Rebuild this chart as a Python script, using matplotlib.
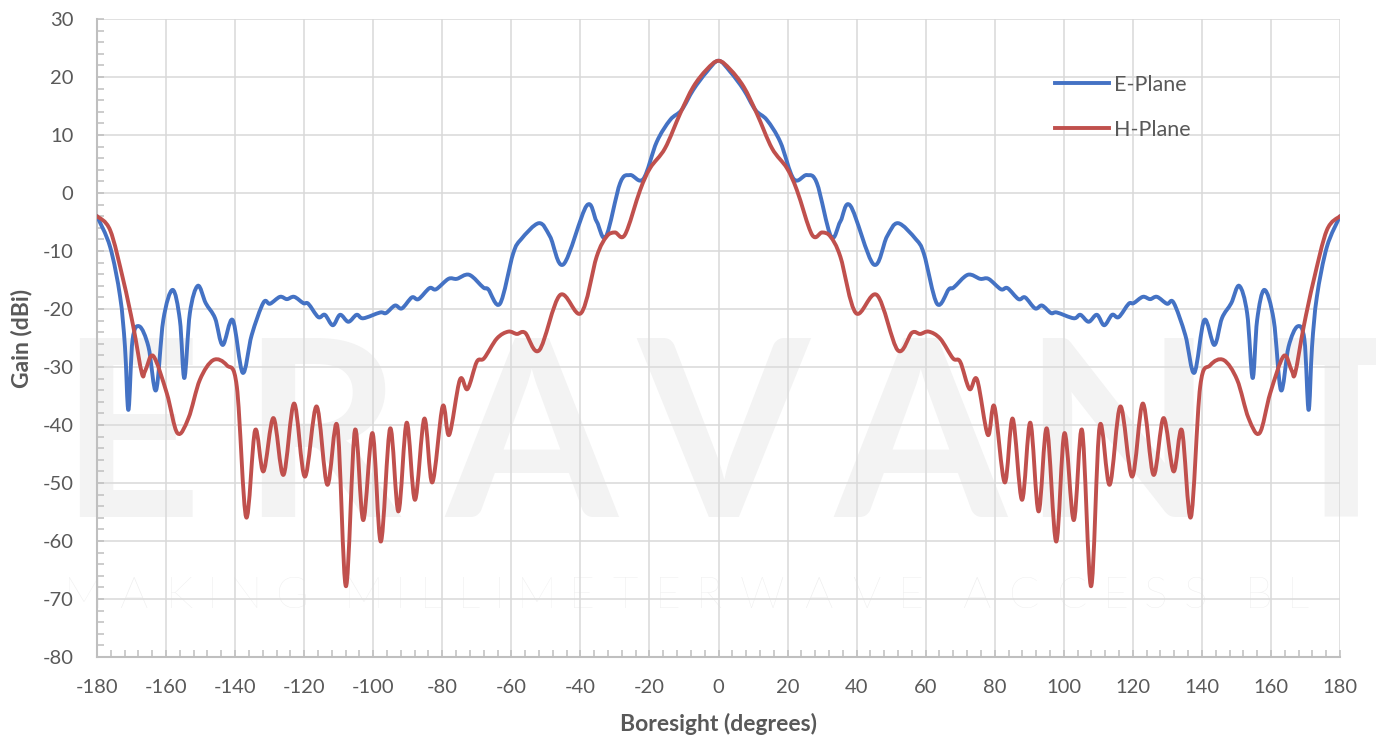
import matplotlib
matplotlib.use("Agg")
import matplotlib.pyplot as plt
from matplotlib.path import Path
from matplotlib.patches import PathPatch
from matplotlib.lines import Line2D
from matplotlib.ticker import MultipleLocator
from matplotlib.textpath import TextPath
from matplotlib.font_manager import FontProperties

plt.rcParams["axes.unicode_minus"] = False

# ---------------- data ----------------
angles_e = [-180, -176.2, -173.3, -171.9, -170.9, -169.7, -167.7, -165.1, -162.9,
            -160.8, -158.1, -156.0, -154.7, -153.1, -150.8, -148.5, -145.8, -143.6, -140.7,
            -137.8, -135.2, -131.8, -129.9, -127.0, -125.0, -122.9, -120.2, -118.8, -115.9,
            -114.0, -111.7, -109.6, -107.2, -104.8, -102.9, -98.0, -96.3, -93.7, -91.7,
            -88.8, -86.9, -83.7, -81.8, -78.2, -75.8, -72.2, -68.1, -66.7, -63.3,
            -59.5, -57.2, -52.0, -48.8, -44.9, -38.2, -35.3, -32.6, -28.5, -25.6,
            -21.8, -17.9, -14.0, -10.7, -7.3, -3.4, 0,
            3.4, 7.3, 10.7, 14.0, 17.9, 21.8, 25.6, 28.5, 32.6, 35.3,
            38.2, 44.9, 48.8, 52.0, 57.2, 59.5, 63.3, 66.7, 68.1, 72.2,
            75.8, 78.2, 81.8, 83.7, 86.9, 88.8, 91.7, 93.7, 96.3, 98.0,
            102.9, 104.8, 107.2, 109.6, 111.7, 114.0, 115.9, 118.8, 120.2, 122.9,
            125.0, 127.0, 129.9, 131.8, 135.2, 137.8, 140.7, 143.6, 145.8, 148.5,
            150.8, 153.1, 154.7, 156.0, 158.1, 160.8, 162.9, 165.1, 167.7, 169.7,
            170.9, 171.9, 173.3, 176.2, 180]
gain_e = [-4.0, -9.3, -17.9, -26.5, -37.4, -25.3, -23.0, -26.5, -34.0,
          -21.9, -16.7, -21.9, -31.9, -20.7, -16.0, -19.0, -21.6, -26.2, -21.9,
          -31.0, -24.5, -18.9, -19.1, -17.9, -18.3, -17.9, -19.0, -19.1, -21.4,
          -21.0, -22.8, -21.0, -22.2, -21.0, -21.6, -20.6, -20.7, -19.4, -19.9,
          -18.0, -18.3, -16.4, -16.6, -14.8, -14.8, -14.1, -16.3, -16.6, -19.1,
          -10.5, -8.0, -5.2, -7.5, -12.3, -2.2, -4.9, -7.5, 1.7, 3.1,
          2.4, 8.8, 12.6, 14.3, 17.8, 20.9, 22.8,
          20.9, 17.8, 14.3, 12.6, 8.8, 2.4, 3.1, 1.7, -7.5, -4.9,
          -2.2, -12.3, -7.5, -5.2, -8.0, -10.5, -19.1, -16.6, -16.3, -14.1,
          -14.8, -14.8, -16.6, -16.4, -18.3, -18.0, -19.9, -19.4, -20.7, -20.6,
          -21.6, -21.0, -22.2, -21.0, -22.8, -21.0, -21.4, -19.1, -19.0, -17.9,
          -18.3, -17.9, -19.1, -18.9, -24.5, -31.0, -21.9, -26.2, -21.6, -19.0,
          -16.0, -20.7, -31.9, -21.9, -16.7, -21.9, -34.0, -26.5, -23.0, -25.3,
          -37.4, -26.5, -17.9, -9.3, -4.0]

angles_h = [-180, -176.2, -172.4, -169.5, -167.0, -166.0, -163.7, -159.8, -156.7,
            -153.5, -150.2, -146.3, -142.4, -139.5, -136.8, -134.2, -131.8, -128.9, -126.0,
            -122.9, -119.8, -116.4, -113.3, -110.4, -107.9, -105.3, -102.9, -100.2, -97.8,
            -95.1, -92.7, -90.3, -87.9, -85.2, -82.9, -79.9, -78.0, -74.9, -72.7,
            -70.0, -67.9, -64.2, -60.9, -58.4, -56.0, -51.9, -45.9, -39.8, -35.3,
            -32.4, -30.0, -27.1, -22.7, -19.8, -15.5, -11.1, -7.3, -3.4, 0,
            3.4, 7.3, 11.1, 15.5, 19.8, 22.7, 27.1, 30.0, 32.4, 35.3,
            39.8, 45.9, 51.9, 56.0, 58.4, 60.9, 64.2, 67.9, 70.0, 72.7,
            74.9, 78.0, 79.9, 82.9, 85.2, 87.9, 90.3, 92.7, 95.1, 97.8,
            100.2, 102.9, 105.3, 107.9, 110.4, 113.3, 116.4, 119.8, 122.9, 126.0,
            128.9, 131.8, 134.2, 136.8, 139.5, 142.4, 146.3, 150.2, 153.5, 156.7,
            159.8, 163.7, 166.0, 167.0, 169.5, 172.4, 176.2, 180]
gain_h = [-4.0, -6.4, -15.0, -23.0, -31.1, -30.6, -28.1, -34.5, -41.4,
          -38.8, -32.2, -28.8, -29.7, -33.4, -55.9, -40.9, -48.0, -38.8, -48.6,
          -36.3, -48.9, -36.8, -50.3, -40.2, -67.8, -40.9, -56.4, -41.4, -60.1,
          -40.6, -54.9, -39.6, -52.9, -38.9, -49.9, -36.8, -41.7, -32.2, -33.8,
          -29.1, -28.5, -25.1, -23.9, -24.3, -24.1, -27.1, -17.6, -20.7, -11.0,
          -7.5, -6.8, -7.2, 0.5, 4.3, 7.7, 13.7, 18.3, 21.3, 22.8,
          21.3, 18.3, 13.7, 7.7, 4.3, 0.5, -7.2, -6.8, -7.5, -11.0,
          -20.7, -17.6, -27.1, -24.1, -24.3, -23.9, -25.1, -28.5, -29.1, -33.8,
          -32.2, -41.7, -36.8, -49.9, -38.9, -52.9, -39.6, -54.9, -40.6, -60.1,
          -41.4, -56.4, -40.9, -67.8, -40.2, -50.3, -36.8, -48.9, -36.3, -48.6,
          -38.8, -48.0, -40.9, -55.9, -33.4, -29.7, -28.8, -32.2, -38.8, -41.4,
          -34.5, -28.1, -30.6, -31.1, -23.0, -15.0, -6.4, -4.0]

series_names = ["E-Plane", "H-Plane"]
series_colors = ["#4472C4", "#C0504D"]
x_ticks = list(range(-180, 181, 20))
y_ticks = list(range(-80, 31, 10))

# ---------------- figure ----------------
W, H = 1376, 738
fig = plt.figure(figsize=(W / 100, H / 100), dpi=100)
fig.patch.set_facecolor("white")

def fx(px):
    return px / W

def fy(py):
    return 1 - py / H

# watermark (behind everything)
wm_letters = ["E", "R", "A", "V", "A", "N", "T"]
wm_centers = [130, 321, 531, 723, 920, 1117, 1340]
for ch, cx in zip(wm_letters, wm_centers):
    fig.text(fx(cx), fy(517), ch, ha="center", va="baseline", fontsize=178,
             family="Lato", fontweight="bold", color="#F3F3F3", zorder=-5)

line2 = "MAKING MILLIMETERWAVE ACCESS BL"
fp2 = FontProperties(family="Lato", weight="light", size=32)
widths = []
for ch in line2:
    if ch == " ":
        widths.append(0.0)
    else:
        tp = TextPath((0, 0), ch, prop=fp2)
        widths.append(tp.get_extents().width * 100 / 72)
n_gaps = len(line2) - 1
span = 1372 - 69
track = (span - sum(widths)) / (n_gaps + line2.count(" "))
pos = 69.0
for ch, w in zip(line2, widths):
    if ch == " ":
        pos += track
        continue
    fig.text(fx(pos + w / 2), fy(608), ch, ha="center", va="baseline",
             fontproperties=fp2, color="#EDEDED", zorder=-5)
    pos += w + track

ax = fig.add_axes([fx(97), fy(657), fx(1340) - fx(97), (657 - 19) / H])
ax.set_facecolor("none")
ax.set_xlim(-180, 180)
ax.set_ylim(-80, 30)
ax.set_axisbelow(True)

def smooth_path(xs, ys):
    pts = list(zip(xs, ys))
    n = len(pts)
    verts = [pts[0]]
    codes = [Path.MOVETO]
    for i in range(n - 1):
        p0 = pts[i - 1] if i > 0 else pts[i]
        p1 = pts[i]
        p2 = pts[i + 1]
        p3 = pts[i + 2] if i + 2 < n else pts[i + 1]
        c1 = (p1[0] + (p2[0] - p0[0]) / 6, p1[1] + (p2[1] - p0[1]) / 6)
        c2 = (p2[0] - (p3[0] - p1[0]) / 6, p2[1] - (p3[1] - p1[1]) / 6)
        verts += [c1, c2, p2]
        codes += [Path.CURVE4] * 3
    return Path(verts, codes)

lw = 2.8
for xs, ys, col in [(angles_e, gain_e, series_colors[0]), (angles_h, gain_h, series_colors[1])]:
    patch = PathPatch(smooth_path(xs, ys), fill=False, edgecolor=col, lw=lw,
                      capstyle="round", joinstyle="round", zorder=3)
    ax.add_patch(patch)

# grid and axes
ax.set_xticks(x_ticks)
ax.set_yticks(y_ticks)
ax.xaxis.set_minor_locator(MultipleLocator(4))
ax.yaxis.set_minor_locator(MultipleLocator(2))
ax.grid(True, which="major", color="#D9D9D9", lw=1.1)
for s in ["top", "right"]:
    ax.spines[s].set_visible(False)
for s in ["left", "bottom"]:
    ax.spines[s].set_color("#BFBFBF")
    ax.spines[s].set_linewidth(1.5)
ax.tick_params(which="both", direction="in", color="#BFBFBF", width=1.1)
ax.tick_params(which="major", length=5)
ax.tick_params(which="minor", length=5)
ax.tick_params(axis="y", which="major", pad=17, labelsize=14.5, labelcolor="#595959")
ax.tick_params(axis="x", which="major", pad=16, labelsize=14.5, labelcolor="#595959")
for lab in ax.get_xticklabels() + ax.get_yticklabels():
    lab.set_family("Lato")

fig.text(fx(22), fy(338), "Gain (dBi)", rotation=90, ha="center", va="center",
         fontsize=16.5, fontweight="bold", family="Lato", color="#595959")
fig.text(fx(718), fy(724), "Boresight (degrees)", ha="center", va="center",
         fontsize=16.5, fontweight="bold", family="Lato", color="#595959")

handles = [Line2D([], [], color=c, lw=lw) for c in series_colors]
leg = ax.legend(handles, series_names, loc="upper left",
                bbox_to_anchor=(fx(1055), fy(75)), bbox_transform=fig.transFigure,
                frameon=False, borderpad=0, borderaxespad=0, handlelength=2.5,
                handletextpad=0.25, labelspacing=1.15,
                prop=FontProperties(family="Lato", size=15.5))
for t in leg.get_texts():
    t.set_color("#595959")

fig.savefig("out.png", dpi=100)
